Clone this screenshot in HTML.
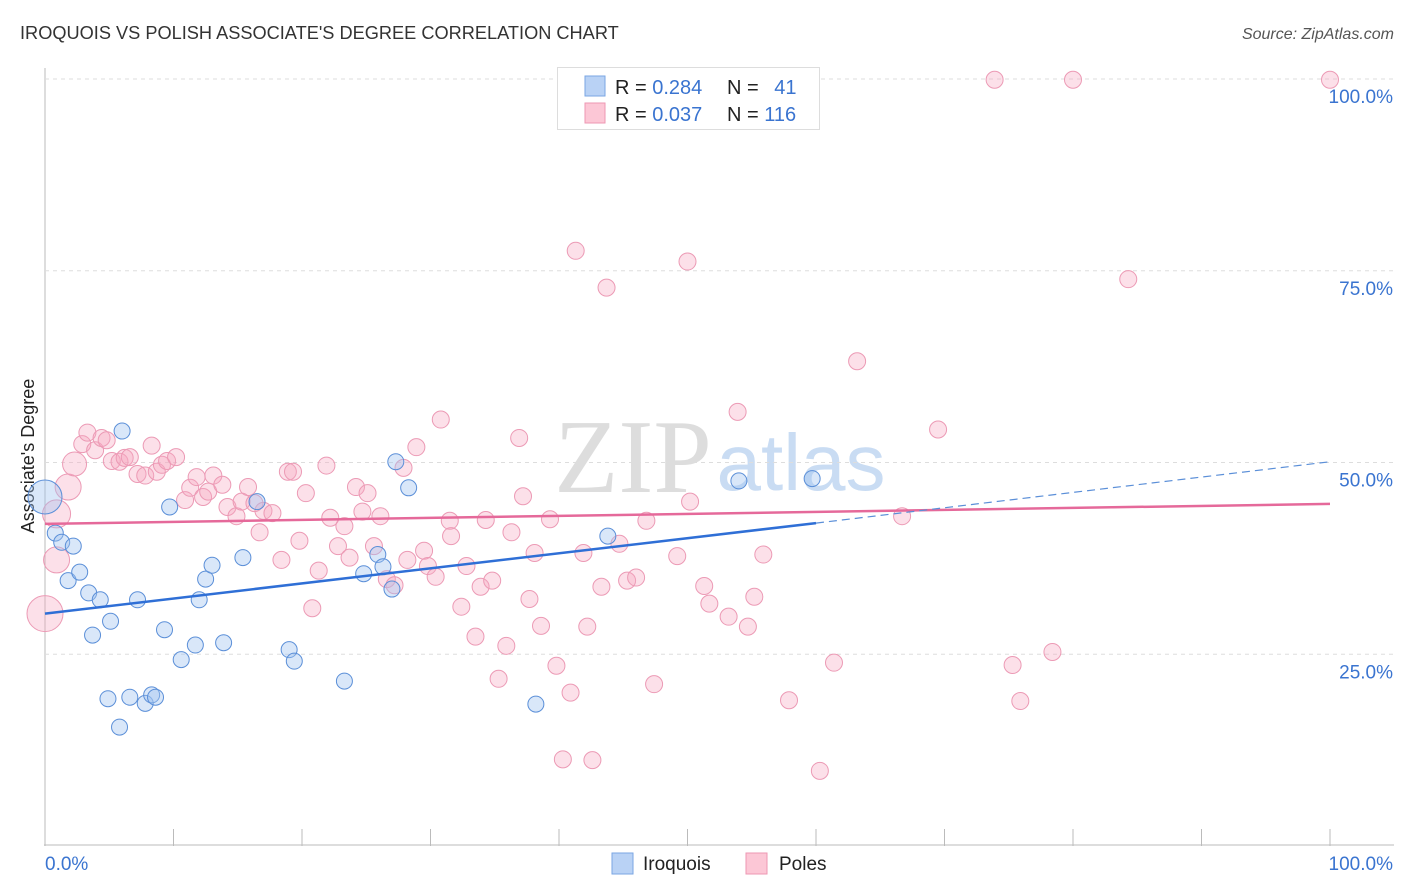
<!DOCTYPE html>
<html><head><meta charset="utf-8"><style>
body{margin:0;background:#fff;font-family:"Liberation Sans",sans-serif;}
svg{display:block}
</style></head><body>
<svg id="chart" width="1406" height="892" xmlns="http://www.w3.org/2000/svg">
<text x="20" y="39" font-size="18.2" fill="#333">IROQUOIS VS POLISH ASSOCIATE'S DEGREE CORRELATION CHART</text>
<text x="1394" y="39" font-size="16" font-style="italic" fill="#555" text-anchor="end">Source: ZipAtlas.com</text>
<text x="34" y="456" font-size="18" fill="#222" text-anchor="middle" transform="rotate(-90 34 456)">Associate's Degree</text>
<g>
<text x="633" y="492" font-size="105" font-family="Liberation Serif,serif" fill="#ddd" text-anchor="middle">ZIP</text>
<text x="801" y="490" font-size="80" fill="#c9dcf3" text-anchor="middle">atlas</text>
</g>
<g id="grid"></g><g id="marks"></g><g id="lines"></g>
<g>
<rect x="557.5" y="67.5" width="262" height="62" fill="#fff" stroke="#ddd"/>
<rect x="585" y="76" width="20" height="20" fill="#b9d2f5" stroke="#7aa6e3"/>
<rect x="585" y="103" width="20" height="20" fill="#fcc7d6" stroke="#ee97b3"/>
<text x="615" y="94" font-size="20" fill="#222">R = <tspan fill="#3a74d0">0.284</tspan></text>
<text x="727" y="94" font-size="20" fill="#222">N = <tspan fill="#3a74d0" dx="10">41</tspan></text>
<text x="615" y="121" font-size="20" fill="#222">R = <tspan fill="#3a74d0">0.037</tspan></text>
<text x="727" y="121" font-size="20" fill="#222">N = <tspan fill="#3a74d0">116</tspan></text>
</g>
<g>
<rect x="612" y="853" width="21" height="21" fill="#b9d2f5" stroke="#7aa6e3"/>
<text x="643" y="870" font-size="19" fill="#222">Iroquois</text>
<rect x="746" y="853" width="21" height="21" fill="#fcc7d6" stroke="#ee97b3"/>
<text x="779" y="870" font-size="19" fill="#222">Poles</text>
</g>
</svg>
<script>
const yTicks=[25,50,75,100];
const xTickCount=10;
const blueX=[0,0.8,1.3,2.2,1.8,2.7,3.4,4.3,3.7,5.1,6.0,7.2,6.6,4.9,5.8,7.8,8.3,8.6,9.3,9.7,10.6,11.7,12.0,12.5,13.0,13.9,15.4,16.5,19.0,19.4,23.3,24.8,25.9,26.3,27.0,27.3,28.3,38.2,43.8,54.0,59.7];
const blueY=[45.5,40.8,39.6,39.1,34.6,35.7,33.0,32.1,27.5,29.3,54.1,32.1,19.4,19.2,15.5,18.6,19.7,19.4,28.2,44.2,24.3,26.2,32.1,34.8,36.6,26.5,37.6,44.9,25.6,24.1,21.5,35.5,38.0,36.4,33.5,50.1,46.7,18.5,40.4,47.6,47.9];
const pinkX=[0,0.9,0.9,1.8,2.3,2.9,3.3,3.9,4.4,4.8,5.2,5.8,6.2,6.6,7.2,7.8,8.3,8.7,9.1,9.5,10.2,10.9,11.3,11.8,12.3,12.7,13.1,13.8,14.2,14.9,15.3,15.8,16.3,16.7,17.0,17.7,18.4,18.9,19.3,19.8,20.3,20.8,21.3,21.9,22.2,22.8,23.3,23.7,24.2,24.7,25.1,25.6,26.1,26.6,27.2,27.9,28.2,28.9,29.5,29.8,30.4,30.8,31.5,31.6,32.4,32.8,33.5,33.9,34.3,34.8,35.3,35.9,36.3,36.9,37.2,37.7,38.1,38.6,39.3,39.8,40.3,40.9,41.3,41.9,42.2,42.6,43.3,43.7,44.7,45.3,46.0,46.8,47.4,49.2,50.0,50.2,51.3,51.7,53.2,53.9,54.7,55.2,55.9,57.9,60.3,61.4,63.2,66.7,69.5,73.9,75.3,75.9,78.4,80.0,84.3,100];
const pinkY=[30.3,37.3,43.3,46.8,49.8,52.4,53.9,51.6,53.2,52.9,50.2,50.1,50.6,50.7,48.5,48.3,52.2,48.8,49.7,50.2,50.7,45.1,46.7,48.1,45.5,46.2,48.3,47.1,44.2,43.0,44.9,46.8,44.7,40.9,43.7,43.4,37.3,48.8,48.8,39.8,46.0,31.0,35.9,49.6,42.8,39.1,41.7,37.6,46.8,43.6,46.0,39.1,43.0,34.8,34.0,49.3,37.3,52.0,38.5,36.5,35.1,55.6,42.4,40.4,31.2,36.5,27.3,33.8,42.5,34.6,21.8,26.1,40.9,53.2,45.6,32.2,38.2,28.7,42.6,23.5,11.3,20.0,77.6,38.2,28.6,11.2,33.8,72.8,39.4,34.6,35.0,42.4,21.1,37.8,76.2,44.9,33.9,31.6,29.9,56.6,28.6,32.5,38.0,19.0,9.8,23.9,63.2,43.0,54.3,99.9,23.6,18.9,25.3,99.9,73.9,99.9];
const pinkBig=[18,13,14,13,12];
const blueTrend=[30.3,42.1,50.1]; // at x=0, x=60 (end solid), x=100
const pinkTrend=[42.0,44.6];
const NS='http://www.w3.org/2000/svg';
const X0=45,X1=1330,Y0=846,Y100=79;
const sx=v=>X0+(X1-X0)*v/100, sy=v=>Y0-(Y0-Y100)*v/100;
function mk(tag,at,parent){const e=document.createElementNS(NS,tag);for(const k in at)e.setAttribute(k,at[k]);parent.appendChild(e);return e;}
const grid=document.getElementById('grid'),marks=document.getElementById('marks'),lines=document.getElementById('lines');
mk('line',{x1:44,y1:845,x2:1394,y2:845,stroke:'#bbb'},grid);
mk('line',{x1:45,y1:68,x2:45,y2:846,stroke:'#bbb'},grid);
for(let i=0;i<=xTickCount;i++){const x=sx(i*100/xTickCount);
const t=mk('line',{x1:x,y1:829,x2:x,y2:846,stroke:'#bbb'},grid);

}
yTicks.forEach(v=>{const y=sy(v);
const g=mk('line',{x1:45,y1:y,x2:1394,y2:y,stroke:'#ddd','stroke-dasharray':'4,4'},grid);


const t=mk('text',{x:1393,y:y+24,'font-size':19,fill:'#3a74d0','text-anchor':'end'},grid);t.textContent=v.toFixed(1)+'%';

});
const xl0=mk('text',{x:45,y:870,'font-size':19,fill:'#3a74d0'},grid);xl0.textContent='0.0%';


const xl1=mk('text',{x:1393,y:870,'font-size':19,fill:'#3a74d0','text-anchor':'end'},grid);xl1.textContent='100.0%';


pinkX.forEach((v,i)=>{const c=mk('circle',{cx:sx(v),cy:sy(pinkY[i]),r:i<pinkBig.length?pinkBig[i]:8.5,fill:'rgba(246,166,192,0.35)',stroke:'#ec9ab5','stroke-width':1},marks);

});
blueX.forEach((v,i)=>{const c=mk('circle',{cx:sx(v),cy:sy(blueY[i]),r:i==0?17:8,fill:'rgba(160,196,240,0.4)',stroke:'#5b8fd8','stroke-width':1},marks);

});
const pl=mk('line',{x1:sx(0),y1:sy(pinkTrend[0]),x2:sx(100),y2:sy(pinkTrend[1]),stroke:'#e5699a','stroke-width':2.5},lines);


const bl=mk('line',{x1:sx(0),y1:sy(blueTrend[0]),x2:sx(60),y2:sy(blueTrend[1]),stroke:'#2f6fd6','stroke-width':2.5},lines);


const bd=mk('line',{x1:sx(60),y1:sy(blueTrend[1]),x2:sx(100),y2:sy(blueTrend[2]),stroke:'#5b8fd8','stroke-width':1.2,'stroke-dasharray':'8,5'},lines);


</script>
</body></html>
